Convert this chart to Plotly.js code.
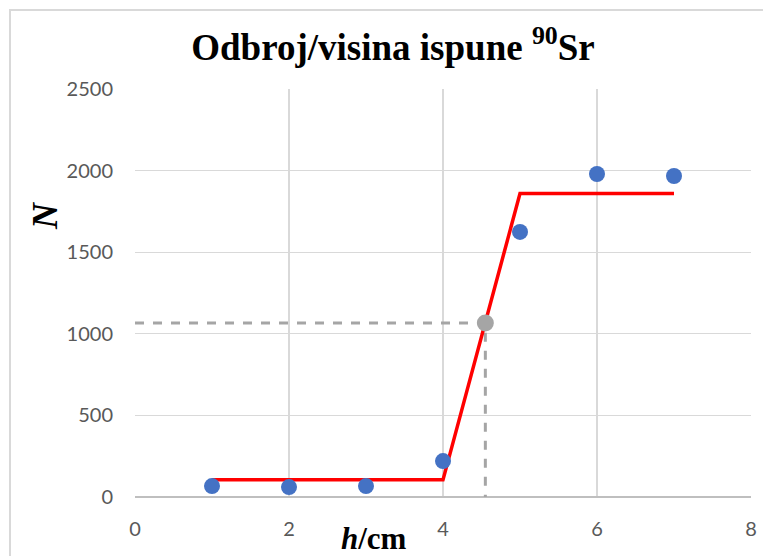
<!DOCTYPE html>
<html>
<head>
<meta charset="utf-8">
<script src="https://cdn.plot.ly/plotly-3.0.1.min.js"></script>
<style>
html,body{margin:0;padding:0;background:#fff;}
#wrap{position:absolute;left:0;top:0;width:763px;height:556px;}
#frame{position:absolute;left:9px;top:9px;width:760px;height:560px;border:2px solid #d9d9d9;pointer-events:none;}
#chart{position:absolute;left:0;top:0;width:763px;height:556px;}
</style>
</head>
<body>
<div id="wrap">
<div id="chart"></div>
<div id="frame"></div>
</div>
<script>
// Measured data
const h = [1, 2, 3, 4, 5, 6, 7];
const N = [67, 61, 67, 220, 1624, 1979, 1967];
// Piecewise fit line
const fitH = [1, 4, 5, 7];
const fitN = [105, 105, 1860, 1860];
// Half-height point and guides
const halfH = [4.55];
const halfN = [1066];
const guideH = [0, 4.55, 4.55];
const guideN = [1066, 1066, 0];
const xTicks = [0, 2, 4, 6, 8];
const yTicks = [0, 500, 1000, 1500, 2000, 2500];

const traces = [
  {x: guideH, y: guideN, mode: 'lines', line: {color: '#A5A5A5', width: 3, dash: 'dash'}, hoverinfo: 'skip'},
  {x: fitH, y: fitN, mode: 'lines', line: {color: '#FF0000', width: 3.5}},
  {x: h, y: N, mode: 'markers', marker: {color: '#4472C4', size: 16}},
  {x: halfH, y: halfN, mode: 'markers', marker: {color: '#A5A5A5', size: 17}}
];

const layout = {
  width: 763, height: 556,
  margin: {l: 135, r: 12, t: 89, b: 59},
  paper_bgcolor: '#fff', plot_bgcolor: '#fff',
  showlegend: false,
  title: {
    text: '<b>Odbroj/visina ispune <sup>90</sup>Sr</b>',
    font: {family: 'Liberation Serif, Times New Roman, serif', size: 37, color: '#000'},
    x: 393 / 763, xanchor: 'center', xref: 'container',
    y: 1 - 47/556, yref: 'container', yanchor: 'middle'
  },
  xaxis: {
    range: [0, 8], tickvals: xTicks, ticktext: xTicks.map(String),
    showgrid: true, gridcolor: '#d9d9d9', gridwidth: 1.2,
    zeroline: false, showline: false, ticks: '',
    tickfont: {family: 'Lato, Open Sans, sans-serif', size: 20, color: '#595959'},
    ticklabelstandoff: 18
  },
  yaxis: {
    range: [0, 2500], tickvals: yTicks, ticktext: yTicks.map(String),
    showgrid: true, gridcolor: '#d9d9d9', gridwidth: 1.2,
    zeroline: true, zerolinecolor: '#bfbfbf', zerolinewidth: 1.5,
    showline: false, ticks: '',
    tickfont: {family: 'Lato, Open Sans, sans-serif', size: 20, color: '#595959'},
    ticklabelstandoff: 21
  },
  annotations: [
    {text: '<b><i>N</i></b>', xref: 'paper', yref: 'paper',
     x: (45 - 135) / (751 - 135), y: (497 - 216) / (497 - 89),
     xanchor: 'center', yanchor: 'middle', showarrow: false, textangle: -90,
     font: {family: 'Liberation Serif, Times New Roman, serif', size: 36, color: '#000'}},
    {text: '<b><i>h</i>/cm</b>', xref: 'paper', yref: 'paper',
     x: (374 - 135) / (751 - 135), y: (497 - 538) / (497 - 89),
     xanchor: 'center', yanchor: 'middle', showarrow: false,
     font: {family: 'Liberation Serif, Times New Roman, serif', size: 31, color: '#000'}}
  ]
};

Plotly.newPlot('chart', traces, layout, {displayModeBar: false, staticPlot: true});
</script>
</body>
</html>
